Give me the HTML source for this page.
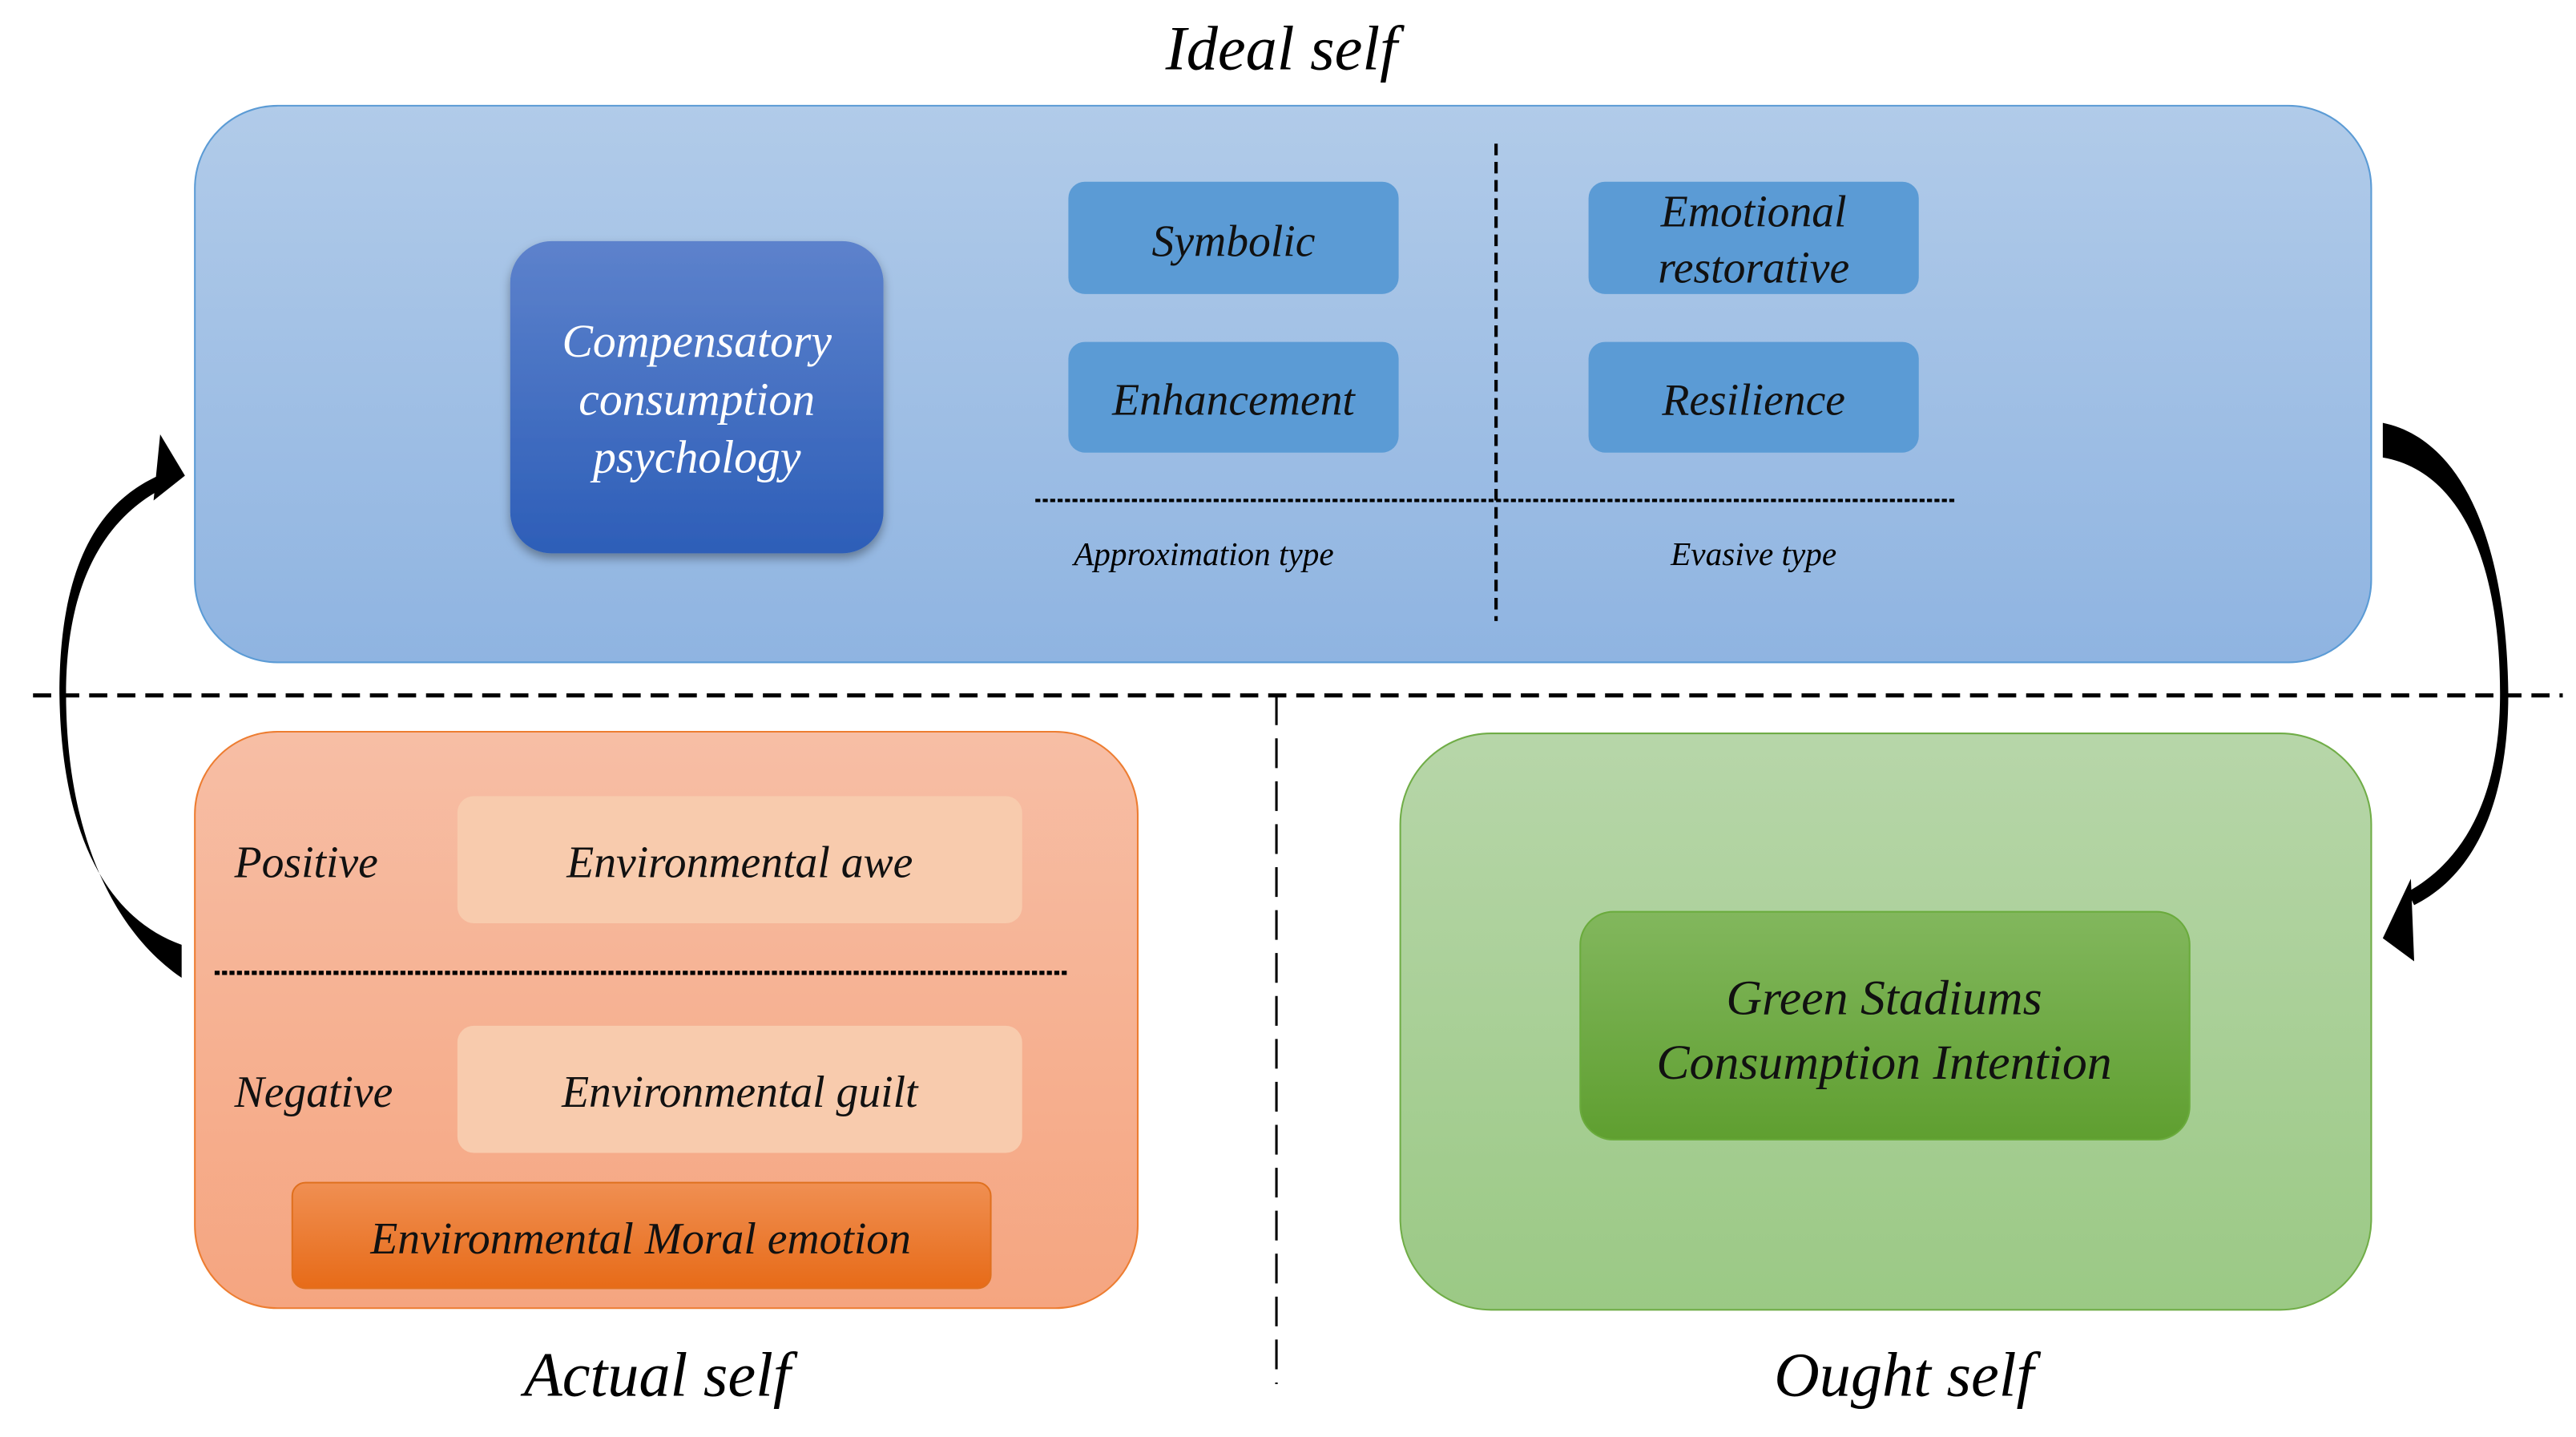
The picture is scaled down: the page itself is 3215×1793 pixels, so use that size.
<!DOCTYPE html>
<html><head><meta charset="utf-8"><style>html,body{margin:0;padding:0;background:#fff}svg{display:block}text{font-family:"Liberation Serif",serif;font-style:italic}</style></head>
<body>
<svg width="3215" height="1793" viewBox="0 0 1560 870" xmlns="http://www.w3.org/2000/svg">
<defs>
<linearGradient id="gb" x1="0" y1="0" x2="0" y2="1"><stop offset="0" stop-color="#b1cbe9"/><stop offset="1" stop-color="#8fb4e1"/></linearGradient>
<linearGradient id="gc" x1="0" y1="0" x2="0" y2="1"><stop offset="0" stop-color="#5d82cc"/><stop offset="1" stop-color="#2d5eb8"/></linearGradient>
<linearGradient id="go" x1="0" y1="0" x2="0" y2="1"><stop offset="0" stop-color="#f7bea5"/><stop offset="1" stop-color="#f5a580"/></linearGradient>
<linearGradient id="gm" x1="0" y1="0" x2="0" y2="1"><stop offset="0" stop-color="#f08f52"/><stop offset="1" stop-color="#e76b18"/></linearGradient>
<linearGradient id="gg" x1="0" y1="0" x2="0" y2="1"><stop offset="0" stop-color="#b7d6a9"/><stop offset="1" stop-color="#9bc985"/></linearGradient>
<linearGradient id="gi" x1="0" y1="0" x2="0" y2="1"><stop offset="0" stop-color="#82b75d"/><stop offset="1" stop-color="#5f9f30"/></linearGradient>
<filter id="sh" x="-20%" y="-20%" width="140%" height="140%"><feDropShadow dx="0" dy="3" stdDeviation="3" flood-color="#000" flood-opacity="0.35"/></filter>
</defs>
<text x="776" y="42" font-size="38" text-anchor="middle">Ideal self</text>
<rect x="118" y="64" width="1318" height="337" rx="50" fill="url(#gb)" stroke="#5b9bd5" stroke-width="1"/>
<rect x="309" y="146" width="226" height="189" rx="25" fill="url(#gc)" filter="url(#sh)"/>
<g fill="#fff" font-size="28" text-anchor="middle"><text x="422" y="216">Compensatory</text><text x="422" y="251">consumption</text><text x="422" y="286">psychology</text></g>
<g fill="#5b9bd5"><rect x="647" y="110" width="200" height="68" rx="10"/><rect x="647" y="207" width="200" height="67" rx="10"/><rect x="962" y="110" width="200" height="68" rx="10"/><rect x="962" y="207" width="200" height="67" rx="10"/></g>
<g font-size="27" text-anchor="middle" fill="#111"><text x="747" y="155">Symbolic</text><text x="747" y="251">Enhancement</text><text x="1062" y="137">Emotional</text><text x="1062" y="171">restorative</text><text x="1062" y="251">Resilience</text></g>
<line x1="906" y1="87" x2="906" y2="376" stroke="#000" stroke-width="2" stroke-dasharray="7,4"/>
<line x1="627" y1="303" x2="1185" y2="303" stroke="#000" stroke-width="2" stroke-dasharray="3,1.5"/>
<g font-size="20" text-anchor="middle"><text x="729" y="342">Approximation type</text><text x="1062" y="342">Evasive type</text></g>
<line x1="20" y1="421" x2="1552" y2="421" stroke="#000" stroke-width="2.5" stroke-dasharray="11,6"/>
<line x1="773" y1="421" x2="773" y2="838" stroke="#000" stroke-width="1.5" stroke-dasharray="18,8"/>
<rect x="118" y="443" width="571" height="349" rx="50" fill="url(#go)" stroke="#ed7d31" stroke-width="1"/>
<g fill="#f8cbad"><rect x="277" y="482" width="342" height="77" rx="10"/><rect x="277" y="621" width="342" height="77" rx="10"/></g>
<line x1="130" y1="589" x2="647" y2="589" stroke="#000" stroke-width="2.5" stroke-dasharray="3,1.5"/>
<g font-size="27" fill="#111"><text x="142" y="531">Positive</text><text x="142" y="670">Negative</text><g text-anchor="middle"><text x="448" y="531">Environmental awe</text><text x="448" y="670">Environmental guilt</text><text x="388" y="759">Environmental Moral emotion</text></g></g>
<rect x="177" y="716" width="423" height="64" rx="8" fill="url(#gm)" stroke="#e0701e" stroke-width="1"/>
<g font-size="27" fill="#111" text-anchor="middle"><text x="388" y="759">Environmental Moral emotion</text></g>
<rect x="848" y="444" width="588" height="349" rx="55" fill="url(#gg)" stroke="#70ad47" stroke-width="1"/>
<rect x="957" y="552" width="369" height="138" rx="20" fill="url(#gi)" stroke="#6aab3c" stroke-width="1"/>
<g font-size="30" fill="#111" text-anchor="middle"><text x="1141" y="614">Green Stadiums</text><text x="1141" y="653">Consumption Intention</text></g>
<g font-size="38" text-anchor="middle"><text x="398" y="845">Actual self</text><text x="1153" y="845">Ought self</text></g>
<path d="M110,572 C62,555 37,500 36,420 C36,345 58,305 96,288 L98,296 C64,314 40,352 40,420 C40,500 66,562 110,592 Z" fill="#000"/>
<polygon points="97,263 112,288 93,303" fill="#000"/>
<path d="M1443,256 C1492,266 1518,330 1519,420 C1519,480 1502,528 1462,548 L1458,540 C1494,520 1514,480 1514,420 C1514,340 1490,285 1443,277 Z" fill="#000"/>
<polygon points="1443,568 1460,532 1462,582" fill="#000"/>
</svg>
</body></html>
